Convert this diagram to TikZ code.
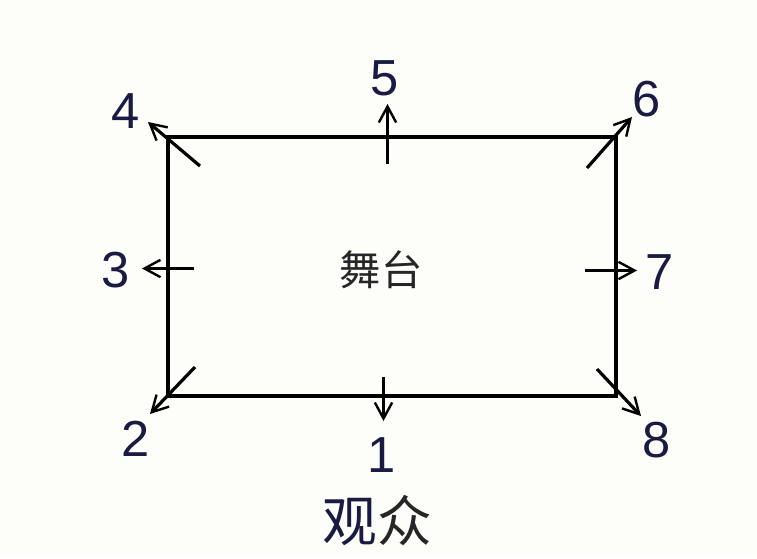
\documentclass[tikz,border=0pt]{standalone}
\usepackage{fontspec}
\setmainfont{Liberation Sans}
\newfontfamily\cjk{Noto Sans CJK SC}
\usetikzlibrary{arrows.meta}
\definecolor{navy}{HTML}{1A1A42}
\definecolor{bg}{HTML}{FDFDFA}
\begin{document}
\begin{tikzpicture}[x=0.75pt,y=-0.75pt,
  edge/.style={line width=2.4pt,line join=miter},
  arrowline/.style={line width=2.4pt,-{Straight Barb[length=12pt,width=13pt,line width=1.8pt]}},
  num/.style={font=\fontsize{38}{40}\selectfont,text=navy,inner sep=0pt},
  lab/.style={font=\cjk\fontsize{31}{34}\selectfont,text=black!85,inner sep=0pt}]
\fill[bg] (0,0) rectangle (757,558);
\useasboundingbox (0,0) rectangle (757,558);
\coordinate (tl) at (168,137);
\coordinate (tr) at (616,137);
\coordinate (br) at (616,396);
\coordinate (bl) at (168,396);
\draw[edge] (tl) -- (tr) -- (br) -- (bl) -- cycle;
% arrow endpoints
\coordinate (s4) at (200,166); \coordinate (e4) at (148,122);
\coordinate (s5) at (387.5,164); \coordinate (e5) at (387.5,104);
\coordinate (s6) at (587,168); \coordinate (e6) at (632,117);
\coordinate (s3) at (194,268.5); \coordinate (e3) at (142,268.5);
\coordinate (s7) at (585,270.5); \coordinate (e7) at (637,270.5);
\coordinate (s2) at (195,367); \coordinate (e2) at (150,414);
\coordinate (s1) at (383.5,377); \coordinate (e1) at (383.5,421);
\coordinate (s8) at (597,369); \coordinate (e8) at (641,416);
\draw[arrowline] (s1) -- (e1);
\draw[arrowline] (s2) -- (e2);
\draw[arrowline] (s3) -- (e3);
\draw[arrowline] (s4) -- (e4);
\draw[arrowline] (s5) -- (e5);
\draw[arrowline] (s6) -- (e6);
\draw[arrowline] (s7) -- (e7);
\draw[arrowline] (s8) -- (e8);
\node[num] (n4) at (126,111) {4};
\node[num] (n5) at (385,78) {5};
\node[num] (n6) at (647,99) {6};
\node[num] (n3) at (116,270) {3};
\node[num] (n7) at (660,272) {7};
\node[num] (n2) at (136,439) {2};
\node[num] (n1) at (382,455) {1};
\node[num] (n8) at (657,440) {8};
\node[lab] (stage) at (381,270) {舞台};
\node[font=\cjk\fontsize{41}{44}\selectfont,inner sep=0pt] (aud) at (377,521) {\textcolor{navy}{观}\textcolor{black!85}{众}};
\end{tikzpicture}
\end{document}
